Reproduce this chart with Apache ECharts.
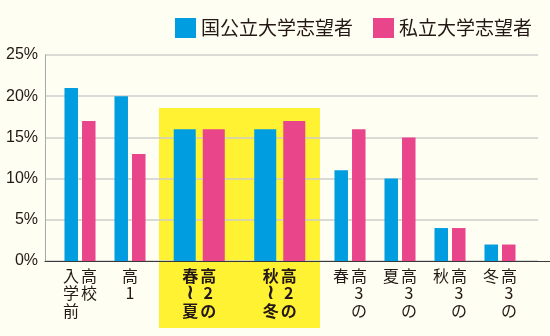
<!DOCTYPE html>
<html><head><meta charset="utf-8">
<script src="https://cdn.jsdelivr.net/npm/echarts@6/dist/echarts.min.js"></script>
<style>html,body{margin:0;padding:0;background:#fffef2;}#c{width:550px;height:336px;}</style>
</head><body><div id="c"></div>
<script>
const categories = ['高校入学前','高1','高2の春〜夏','高2の秋〜冬','高3の春','高3の夏','高3の秋','高3の冬'];
// tick label columns, right column first (vertical Japanese writing)
const tickLabelColumns = [
  ['高校','入学前'], ['高1'], ['高2の','春≀夏'], ['高2の','秋≀冬'],
  ['高3の','春'], ['高3の','夏'], ['高3の','秋'], ['高3の','冬']
];
const national = [21, 20, 16, 16, 11, 10, 4, 2];
const privateU = [17, 13, 16, 17, 16, 15, 4, 2];
const yTicks = [0, 5, 10, 15, 20, 25];
const seriesNames = ['国公立大学志望者','私立大学志望者'];
const colors = ['#009de0','#e8458b'];
const groups = [[0,2],[2,4],[4,8]]; // category ranges per panel
const highlighted = [false, true, false];

const font = '"Noto Sans CJK JP", "Noto Sans", sans-serif';
const textColor = '#231815';

function buildLabel(cols, bold){
  const st = bold ? 'b' : 's';
  const rows = Math.max(...cols.map(c => [...c].length));
  const ordered = cols.slice().reverse();
  const lines = [];
  for (let r = 0; r < rows; r++){
    lines.push(ordered.map(c => {
      const ch = [...c][r];
      const style = ch === '≀' ? st + 't' : st;
      return '{' + style + '|' + (ch || '\u3000') + '}';
    }).join(''));
  }
  return lines.join('\n');
}
const cellBase = {width: 18, align: 'center', fontSize: 16, lineHeight: 17.5, fontFamily: font, color: textColor};

const grids = [
  {left: 45, top: 55, width: 493, height: 206},            // axis/split background
  {left: 45, top: 55, right: 0, height: 206},               // bottom axis line
  {left: 159, top: 108, width: 161, height: 220, show: true, backgroundColor: '#fff232', borderWidth: 0, z: -1},
  {left: 55, top: 55, width: 100, height: 206},
  {left: 159, top: 55, width: 161, height: 206},
  {left: 325, top: 55, width: 200, height: 206}
];
const xAxes = [
  {gridIndex: 0, type: 'value', show: false},
  {gridIndex: 1, type: 'value', min: 0, max: 1, axisLine: {show: true, lineStyle: {color: '#3a3a3a', width: 1.2}}, axisTick: {show: false}, axisLabel: {show: false}, splitLine: {show: false}},
  {gridIndex: 2, type: 'value', show: false}
];
const yAxes = [
  {gridIndex: 0, type: 'value', min: yTicks[0], max: yTicks[yTicks.length-1], interval: yTicks[1]-yTicks[0],
   axisLine: {show: true, lineStyle: {color: '#a8a8a8'}}, axisTick: {show: false},
   splitLine: {lineStyle: {color: '#cdcdcd', width: 1.5}},
   axisLabel: {formatter: '{value}%', fontSize: 16, color: textColor, margin: 7, fontFamily: '"Liberation Sans", sans-serif'}},
  {gridIndex: 1, type: 'value', show: false, min: 0, max: 25},
  {gridIndex: 2, type: 'value', show: false}
];
const series = [];
groups.forEach((g, i) => {
  const gi = 3 + i;
  const cats = categories.slice(g[0], g[1]);
  const cols = tickLabelColumns.slice(g[0], g[1]);
  xAxes.push({gridIndex: gi, type: 'category', data: cats,
    axisLine: {show: false}, axisTick: {show: false},
    axisLabel: {interval: 0, margin: 6,
      formatter: (v, idx) => buildLabel(cols[idx], highlighted[i]),
      rich: {
        s: Object.assign({}, cellBase),
        b: Object.assign({}, cellBase, {fontWeight: 'bold'}),
        st: Object.assign({}, cellBase, {fontSize: 21, fontFamily: '"DejaVu Sans", sans-serif'}),
        bt: Object.assign({}, cellBase, {fontSize: 21, fontWeight: 'bold', fontFamily: '"DejaVu Sans", sans-serif'})
      }}});
  yAxes.push({gridIndex: gi, type: 'value', min: 0, max: 25, show: false});
  const bw = highlighted[i] ? 22 : 13.5;
  const gap = highlighted[i] ? '32%' : '30%';
  [national, privateU].forEach((arr, s) => {
    series.push({name: seriesNames[s], type: 'bar', xAxisIndex: xAxes.length-1, yAxisIndex: yAxes.length-1,
      data: arr.slice(g[0], g[1]), barWidth: bw, barGap: gap, itemStyle: {color: colors[s]}, z: 3});
  });
});

const chart = echarts.init(document.getElementById('c'), null, {renderer: 'canvas'});
chart.setOption({
  backgroundColor: '#fffef2',
  animation: false,
  legend: {data: seriesNames.map((n, i) => ({name: n, itemStyle: {color: colors[i]}})), left: 170, top: 13, itemWidth: 21, itemHeight: 20, itemGap: 20,
    icon: 'rect', textStyle: {fontSize: 19, color: textColor, fontFamily: font}},
  grid: grids,
  xAxis: xAxes,
  yAxis: yAxes,
  series: series
});
</script></body></html>
